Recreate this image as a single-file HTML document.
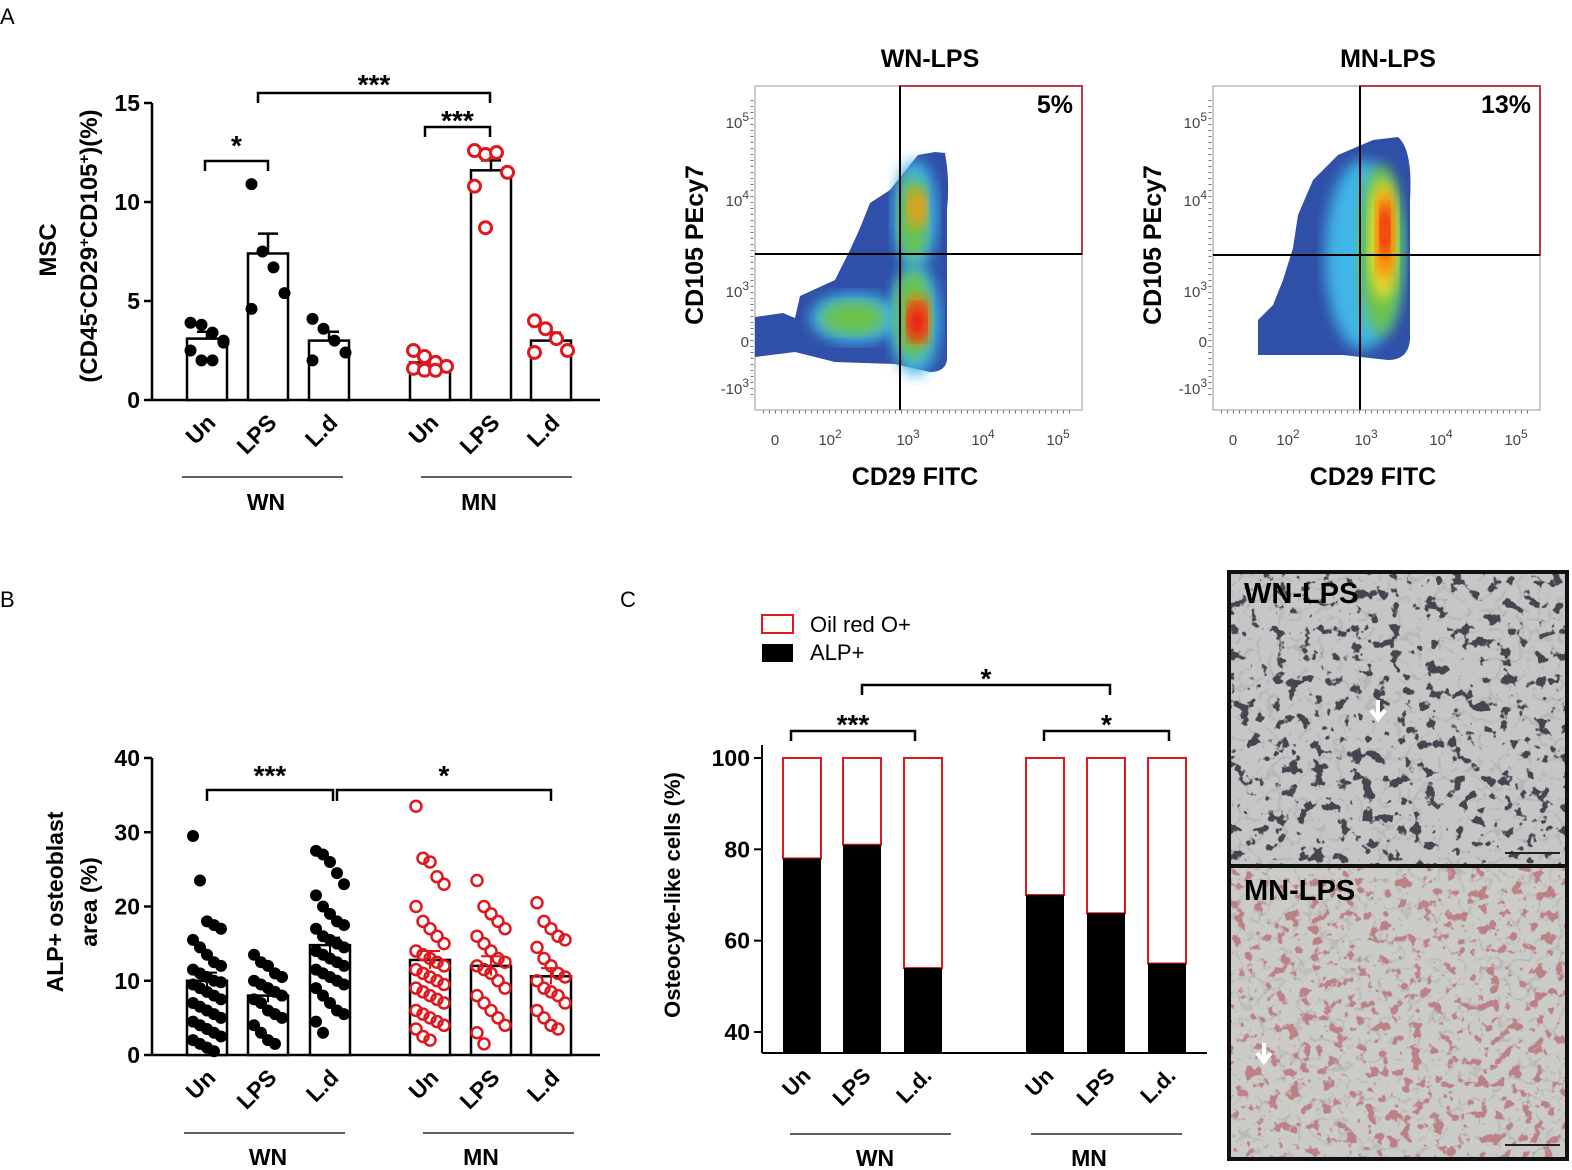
<!DOCTYPE html>
<html><head><meta charset="utf-8">
<style>
html,body{margin:0;padding:0;background:#fff;}
svg{display:block;font-family:"Liberation Sans",Arial,sans-serif;}
.b{font-weight:bold;}
</style></head>
<body>
<svg id="fig" width="1572" height="1170" viewBox="0 0 1572 1170" xmlns="http://www.w3.org/2000/svg">
<defs>
<filter id="blur6"><feGaussianBlur stdDeviation="7"/></filter>
<filter id="tex1" x="0" y="0" width="100%" height="100%">
<feTurbulence type="fractalNoise" baseFrequency="0.08" numOctaves="3" seed="4"/>
<feColorMatrix type="matrix" values="0 0 0 0 0.06  0 0 0 0 0.06  0 0 0 0 0.08  0 0 -16 0 6.4"/>
</filter>
<filter id="tex1b" x="0" y="0" width="100%" height="100%">
<feTurbulence type="turbulence" baseFrequency="0.05" numOctaves="2" seed="2"/>
<feColorMatrix type="matrix" values="0 0 0 0 0.3  0 0 0 0 0.3  0 0 0 0 0.3  -3 0 0 0 0.4"/>
</filter>
<filter id="tex2" x="0" y="0" width="100%" height="100%">
<feTurbulence type="fractalNoise" baseFrequency="0.09" numOctaves="3" seed="9"/>
<feColorMatrix type="matrix" values="0 0 0 0 0.5  0 0 0 0 0.22  0 0 0 0 0.24  0 0 -12 0 5.1"/>
</filter>
</defs>

<text x="0" y="24" font-size="22">A</text>
<text x="0" y="607" font-size="22">B</text>
<text x="620" y="607" font-size="22">C</text>

<g id="chartA"></g>
<g id="chartB"></g>
<g id="chartC"></g>
<g id="flow"></g>

<g>
<rect x="1230" y="573" width="336" height="293" fill="#c4c7c5"/>
<rect x="1230" y="573" width="336" height="293" filter="url(#tex1b)"/>
<rect x="1230" y="573" width="336" height="293" filter="url(#tex1)"/>
<rect x="1230" y="867" width="336" height="291" fill="#cbcbc8"/>
<rect x="1230" y="867" width="336" height="291" filter="url(#tex1b)"/>
<rect x="1230" y="867" width="336" height="291" filter="url(#tex2)"/>
<rect x="1229" y="572" width="338" height="587" fill="none" stroke="#111" stroke-width="4"/>
<line x1="1229" y1="866" x2="1567" y2="866" stroke="#111" stroke-width="4"/>
<text x="1244" y="603" font-size="29" class="b">WN-LPS</text>
<text x="1244" y="900" font-size="29" class="b">MN-LPS</text>
<path d="M1378 700 v16 M1371 710 l7 9 l7 -9" stroke="#fff" stroke-width="4" fill="none"/>
<path d="M1264 1043 v16 M1257 1053 l7 9 l7 -9" stroke="#fff" stroke-width="4" fill="none"/>
<line x1="1505" y1="853" x2="1560" y2="853" stroke="#222" stroke-width="2"/>
<line x1="1505" y1="1145" x2="1560" y2="1145" stroke="#222" stroke-width="2"/>
</g>

<script>
const NS="http://www.w3.org/2000/svg";
function mk(parent,tag,attrs,text){const e=document.createElementNS(NS,tag);for(const k in attrs)e.setAttribute(k,attrs[k]);if(text!==undefined)e.textContent=text;parent.appendChild(e);return e;}

/* ---------- Chart A data ---------- */
const aCats=["Un","LPS","L.d","Un","LPS","L.d"];
const aMeans=[3.1,7.4,3.0,1.9,11.6,3.0];
const aErr=[0.35,1.0,0.45,0.25,0.5,0.4];
const aPoints=[[3.9,3.8,3.4,2.9,2.5,2.0,2.0,3.0],[10.9,7.5,6.7,5.4,4.6],[4.1,3.6,3.0,2.4,2.0],[2.5,2.2,1.9,1.7,1.6,1.5,1.5],[12.6,12.4,12.5,11.5,10.8,8.7],[4.0,3.6,3.1,2.5,2.4]];
const aTicks=[0,5,10,15];
const aColors=["#000","#000","#000","#e0181e","#e0181e","#e0181e"];

/* ---------- Chart B data ---------- */
const bCats=["Un","LPS","L.d","Un","LPS","L.d"];
const bMeans=[10.0,8.0,14.8,12.8,12.0,10.6];
const bErr=[1.1,0.9,1.0,1.2,1.3,1.1];
const bPoints=[
 [29.5,23.5,18,17.5,17,15.5,14.5,13.5,12.5,12,11.5,11,10.5,10,9.8,9.5,9,8.5,8,7.5,7,6.5,6,5.5,5,4.5,4,3.5,3,2.5,2,1.5,1,0.5],
 [13.5,12.5,12,11,10.5,10,9.5,9,8.5,8,7.5,7,6,5.5,5,4,3,2,1.5],
 [27.5,27,26,24.5,23,21.5,20,19,18,17.5,17,16,15.5,15,14.5,14,13.5,13,12.5,12,11.5,11,10.5,10,9.5,9,8,7,6,5.5,4.5,3],
 [33.5,26.5,26,24,23,20,18,17,16,15,14,13.5,13,12.5,12,11.5,11,10.5,10,9.5,9,8.5,8,7.5,7,6,5.5,5,4.5,4,3.5,2.5,2],
 [23.5,20,19,18,17,16,15,14,13,12.5,12,11.5,11,10,9,8,7,6,5,4,3,1.5],
 [20.5,18,17,16,15.5,14.5,13,12,11,10.5,10,9,8.5,8,7,6,5,4,3.5]
];
const bTicks=[0,10,20,30,40];

/* ---------- Chart C data ---------- */
const cCats=["Un","LPS","L.d.","Un","LPS","L.d."];
const cAlp=[78,81,54,70,66,55];
const cTicks=[40,60,80,100];

/* Chart A */
(function(){
 const g=document.getElementById('chartA');
 const y=v=>400-v*19.8, xs=[207,268,329,430,491,551];
 mk(g,'line',{x1:152,y1:103,x2:152,y2:400,stroke:'#000','stroke-width':2.5,});
 mk(g,'line',{x1:152,y1:400,x2:600,y2:400,stroke:'#000','stroke-width':2.5,});
 aTicks.forEach(t=>{
  const l=mk(g,'line',{x1:144,y1:y(t),x2:152,y2:y(t),stroke:'#000','stroke-width':2.5});
  
  
  const tx=mk(g,'text',{x:140,y:y(t)+8,'font-size':23,'text-anchor':'end',class:'b'},t);
  
  
 });
 aMeans.forEach((m,i)=>{
  const r=mk(g,'rect',{x:xs[i]-20,y:y(m),width:40,height:y(0)-y(m),fill:'#fff',stroke:'#000','stroke-width':2.5});
  
  
  const e=mk(g,'path',{d:`M${xs[i]} ${y(m)} V${y(m+aErr[i])} M${xs[i]-10} ${y(m+aErr[i])} H${xs[i]+10}`,stroke:'#000','stroke-width':2.5,fill:'none'});
  
  
  aPoints[i].forEach((v,j)=>{
   const off=(j%4-1.5)*11;
   const c=mk(g,'circle',{cx:xs[i]+off,cy:y(v),r:6,fill:i<3?'#000':'#fff',stroke:aColors[i],'stroke-width':i<3?0:3});
   
   
  });
  const lb=mk(g,'text',{x:0,y:0,'font-size':23,class:'b','text-anchor':'end',transform:`translate(${xs[i]+10},${424}) rotate(-45)`},aCats[i]);
  
  
 });
 mk(g,'line',{x1:182,y1:477,x2:343,y2:477,stroke:'#000','stroke-width':1.2,});
 mk(g,'line',{x1:421,y1:477,x2:572,y2:477,stroke:'#000','stroke-width':1.2,});
 mk(g,'text',{x:266,y:510,'font-size':23,class:'b','text-anchor':'middle',},'WN');
 mk(g,'text',{x:479,y:510,'font-size':23,class:'b','text-anchor':'middle',},'MN');
 mk(g,'text',{transform:'translate(56,250) rotate(-90)','font-size':24,class:'b','text-anchor':'middle',},'MSC');
 const yt2=mk(g,'text',{transform:'translate(97,246) rotate(-90)','font-size':24,class:'b','text-anchor':'middle',});
 const parts=[['(CD45',0],['-',1],['CD29',0],['+',1],['CD105',0],['+',1],[')(%)',0]];
 parts.forEach(p=>{
  const ts=mk(yt2,'tspan',p[1]?{'font-size':15,'baseline-shift':'super'}:{},p[0]);
  
  
 });
 const br=[[205,268,161,'*',145],[425,490,127,'***',120],[258,490,93,'***',84]];
 br.forEach(b=>{
  mk(g,'path',{d:`M${b[0]} ${b[2]+10} V${b[2]} H${b[1]} V${b[2]+10}`,stroke:'#000','stroke-width':2.5,fill:'none',});
  mk(g,'text',{x:(b[0]+b[1])/2,y:b[4]+10,'font-size':28,class:'b','text-anchor':'middle',},b[3]);
 });
})();

/* Chart B */
(function(){
 const g=document.getElementById('chartB');
 const y=v=>1055-v*7.425, xs=[207,268,330,430,491,551];
 mk(g,'line',{x1:152,y1:758,x2:152,y2:1055,stroke:'#000','stroke-width':2.5,});
 mk(g,'line',{x1:152,y1:1055,x2:600,y2:1055,stroke:'#000','stroke-width':2.5,});
 bTicks.forEach(t=>{
  const l=mk(g,'line',{x1:144,y1:y(t),x2:152,y2:y(t),stroke:'#000','stroke-width':2.5});
  
  
  const tx=mk(g,'text',{x:140,y:y(t)+8,'font-size':23,'text-anchor':'end',class:'b'},t);
  
  
 });
 bMeans.forEach((m,i)=>{
  const red=i>=3;
  const r=mk(g,'rect',{x:xs[i]-20,y:y(m),width:40,height:y(0)-y(m),fill:'#fff',stroke:'#000','stroke-width':2.5});
  
  
  bPoints[i].forEach((v,j)=>{
   const off=((j%5)-2)*7;
   const c=mk(g,'circle',{cx:xs[i]+off,cy:y(v),r:red?5.5:6,fill:red?'none':'#000',stroke:red?'#e0181e':'#000','stroke-width':red?2.5:0});
   
   
  });
  const e=mk(g,'path',{d:`M${xs[i]} ${y(m-bErr[i])} V${y(m+bErr[i])} M${xs[i]-10} ${y(m+bErr[i])} H${xs[i]+10}`,stroke:red?'#e0181e':'#000','stroke-width':2,fill:'none'});
  
  
  const lb=mk(g,'text',{x:0,y:0,'font-size':23,class:'b','text-anchor':'end',transform:`translate(${xs[i]+10},${1079}) rotate(-45)`},bCats[i]);
  
  
 });
 mk(g,'line',{x1:184,y1:1133,x2:345,y2:1133,stroke:'#000','stroke-width':1.2,});
 mk(g,'line',{x1:423,y1:1133,x2:574,y2:1133,stroke:'#000','stroke-width':1.2,});
 mk(g,'text',{x:268,y:1165,'font-size':23,class:'b','text-anchor':'middle',},'WN');
 mk(g,'text',{x:481,y:1165,'font-size':23,class:'b','text-anchor':'middle',},'MN');
 mk(g,'text',{transform:'translate(63,902) rotate(-90)','font-size':23,class:'b','text-anchor':'middle',},'ALP+ osteoblast');
 mk(g,'text',{transform:'translate(97,902) rotate(-90)','font-size':23,class:'b','text-anchor':'middle',},'area (%)');
 [[207,333,'***'],[337,551,'*']].forEach(b=>{
  mk(g,'path',{d:`M${b[0]} 801 V790 H${b[1]} V801`,stroke:'#000','stroke-width':2.5,fill:'none',});
  mk(g,'text',{x:(b[0]+b[1])/2,y:785,'font-size':28,class:'b','text-anchor':'middle',},b[2]);
 });
})();

/* Chart C */
(function(){
 const g=document.getElementById('chartC');
 const y=v=>1032-(v-40)*4.567, xs=[802,862,923,1045,1106,1167], base=1053;
 mk(g,'line',{x1:762,y1:745,x2:762,y2:base,stroke:'#000','stroke-width':2,});
 mk(g,'line',{x1:762,y1:base,x2:1207,y2:base,stroke:'#000','stroke-width':2,});
 cTicks.forEach(t=>{
  const l=mk(g,'line',{x1:754,y1:y(t),x2:762,y2:y(t),stroke:'#000','stroke-width':2});
  
  
  const tx=mk(g,'text',{x:750,y:y(t)+8,'font-size':23,'text-anchor':'end',class:'b'},t);
  
  
 });
 cAlp.forEach((v,i)=>{
  const r1=mk(g,'rect',{x:xs[i]-19,y:y(100),width:38,height:y(v)-y(100),fill:'#fff',stroke:'#e0181e','stroke-width':2});
  
  
  const r2=mk(g,'rect',{x:xs[i]-19,y:y(v),width:38,height:base-y(v),fill:'#000'});
  
  
  const lb=mk(g,'text',{x:0,y:0,'font-size':22,class:'b','text-anchor':'end',transform:`translate(${xs[i]+10},${1077}) rotate(-45)`},cCats[i]);
  
  
 });
 mk(g,'line',{x1:790,y1:1134,x2:951,y2:1134,stroke:'#000','stroke-width':1.2,});
 mk(g,'line',{x1:1031,y1:1134,x2:1182,y2:1134,stroke:'#000','stroke-width':1.2,});
 mk(g,'text',{x:875,y:1166,'font-size':23,class:'b','text-anchor':'middle',},'WN');
 mk(g,'text',{x:1089,y:1166,'font-size':23,class:'b','text-anchor':'middle',},'MN');
 mk(g,'text',{transform:'translate(680,895) rotate(-90)','font-size':22,class:'b','text-anchor':'middle',},'Osteocyte-like cells (%)');
 mk(g,'rect',{x:762,y:615,width:31,height:18,fill:'#fff',stroke:'#e0181e','stroke-width':2,});
 mk(g,'text',{x:810,y:632,'font-size':22,},'Oil red O+');
 mk(g,'rect',{x:762,y:644,width:31,height:18,fill:'#000',});
 mk(g,'text',{x:810,y:660,'font-size':22,},'ALP+');
 [[791,915,731,'***',722],[1044,1169,731,'*',722],[862,1110,685,'*',676]].forEach(b=>{
  mk(g,'path',{d:`M${b[0]} ${b[2]+10} V${b[2]} H${b[1]} V${b[2]+10}`,stroke:'#000','stroke-width':2.5,fill:'none',});
  mk(g,'text',{x:(b[0]+b[1])/2,y:b[4]+12,'font-size':28,class:'b','text-anchor':'middle',},b[3]);
 });
})();

/* Flow plots */
function supText(G,x,y,base,exp,anchor){
 const tx=mk(G,'text',{x:x,y:y,'font-size':15,fill:'#444','text-anchor':anchor});
 
 
 mk(tx,'tspan',{},base);
 if(exp){mk(tx,'tspan',{'font-size':12,'baseline-shift':'super'},exp);}
}
function flowPlot(ox,title,pct,vx,hy,variant){
 const g=document.getElementById('flow');
 const G=mk(g,'g',{});
 
 
 mk(G,'text',{x:ox+175,y:67,'font-size':25,class:'b','text-anchor':'middle',},title);
 mk(G,'rect',{x:ox,y:86,width:327,height:324,fill:'#fff',stroke:'#999','stroke-width':1,});
 let blob, spots;
 if(variant===0){
  blob=`M${ox} 357 L${ox} 317 L${ox+28} 313 L${ox+40} 318 L${ox+45} 296 L${ox+80} 280 L${ox+96} 248 L${ox+105} 228 L${ox+115} 203 L${ox+135} 190 L${ox+163} 155 L${ox+180} 152 L${ox+190} 153 Q${ox+195} 180 ${ox+192} 210 L${ox+192} 360 Q${ox+190} 372 ${ox+175} 372 L${ox+140} 364 L${ox+80} 362 L${ox+40} 352 Z`;
  spots=[[ox+160,215,22,55,'#41b6e6'],[ox+160,320,25,55,'#41b6e6'],[ox+100,318,45,25,'#41b6e6'],[ox+158,218,15,42,'#6cc24a'],[ox+158,315,18,45,'#6cc24a'],[ox+98,318,32,17,'#6cc24a'],[ox+162,208,10,20,'#f39c12'],[ox+163,320,12,25,'#ff6a00'],[ox+162,322,9,18,'#e8101a']];
 } else {
  blob=`M${ox+45} 355 L${ox+45} 320 L${ox+60} 305 L${ox+70} 280 L${ox+80} 248 L${ox+85} 215 L${ox+100} 180 L${ox+125} 155 L${ox+160} 140 L${ox+185} 137 Q${ox+200} 150 ${ox+197} 200 L${ox+197} 340 Q${ox+195} 360 ${ox+175} 360 L${ox+130} 355 Z`;
  spots=[[ox+150,255,38,95,'#41b6e6'],[ox+168,250,22,85,'#6cc24a'],[ox+170,240,14,60,'#f3e22a'],[ox+172,235,9,45,'#ff6a00'],[ox+172,230,5,25,'#e8101a']];
 }
 mk(G,'path',{d:blob,fill:'#2f4fa8',});
 spots.forEach(s=>{
  const e=mk(G,'ellipse',{cx:s[0],cy:s[1],rx:s[2],ry:s[3],fill:s[4],filter:'url(#blur6)'});
  
  
 });
 mk(G,'rect',{x:ox+vx,y:86,width:327-vx,height:hy-86,fill:'none',stroke:'#c23a4a','stroke-width':2,});
 mk(G,'line',{x1:ox+vx,y1:86,x2:ox+vx,y2:410,stroke:'#000','stroke-width':2,});
 mk(G,'line',{x1:ox,y1:hy,x2:ox+327,y2:hy,stroke:'#000','stroke-width':2,});
 mk(G,'text',{x:ox+318,y:113,'font-size':25,class:'b','text-anchor':'end',},pct);
 [[122,'10','5'],[200,'10','4'],[291,'10','3'],[341,'0',''],[388,'-10','3']].forEach(t=>supText(G,ox-6,t[0]+6,t[1],t[2],'end'));
 [[20,'0',''],[75,'10','2'],[153,'10','3'],[228,'10','4'],[303,'10','5']].forEach(t=>supText(G,ox+t[0],445,t[1],t[2],'middle'));
 mk(G,'line',{x1:ox+8,y1:412,x2:ox+320,y2:412,stroke:'#777','stroke-width':3,'stroke-dasharray':'1 5',});
 mk(G,'line',{x1:ox-3,y1:100,x2:ox-3,y2:400,stroke:'#777','stroke-width':3,'stroke-dasharray':'1 5',});
 mk(G,'text',{x:ox+160,y:485,'font-size':25,class:'b','text-anchor':'middle',},'CD29 FITC');
 mk(G,'text',{transform:`translate(${ox-52},245) rotate(-90)`,'font-size':25,class:'b','text-anchor':'middle',},'CD105 PEcy7');
}
flowPlot(755,'WN-LPS','5%',145,254,0);
flowPlot(1213,'MN-LPS','13%',147,255,1);
</script>
</svg>
</body></html>
